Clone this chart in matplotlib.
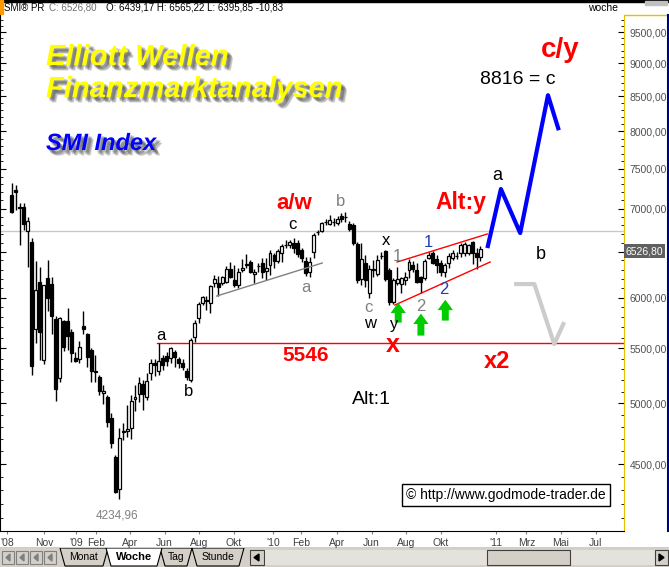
import numpy as np
import pandas as pd
import matplotlib
matplotlib.use("Agg")
import matplotlib.pyplot as plt
import matplotlib.dates as mdates
import matplotlib.patheffects as pe
from matplotlib.patches import Rectangle, Polygon
from matplotlib.ticker import FixedLocator, NullFormatter

plt.rcParams['font.family'] = ['Liberation Sans', 'DejaVu Sans']

# weekly SMI candles (Friday dates)
START_WEEK = "2008-09-05"

open_ = [7167, 7229, 7020, 7020, 6735, 6607, 5684, 6165, 5387, 6208,
         6144, 5783, 5222, 5763, 5763, 5654, 5406, 5396, 5713, 5635,
         5481, 5286, 5231, 5089, 5053, 4873, 4555, 4309, 4765, 4765,
         4790, 5036, 5080, 5168, 5053, 5267, 5360, 5286, 5406, 5425,
         5406, 5462, 5396, 5360, 5286, 5204, 5606, 5793, 5945, 5976,
         5945, 6155, 6155, 6155, 6165, 6306, 6187, 6133, 6295, 6361,
         6383, 6252, 6339, 6372, 6284, 6350, 6461, 6394, 6483, 6573,
         6573, 6596, 6596, 6516, 6394, 6273, 6494, 6723, 6735, 6840,
         6816, 6840, 6828, 6911, 6899, 6816, 6804, 6584, 6198, 6372,
         6049, 6306, 6252, 6449, 6505, 6295, 5955, 6155, 6144, 6187,
         6295, 6350, 6295, 6219, 6208, 6427, 6483, 6416, 6372, 6273,
         6372, 6427, 6449, 6483, 6483, 6483, 6607, 6483, 6439.17]

high = [7317, 7292, 7068, 7068, 6899, 6653, 6394, 6328, 6133, 6405,
        6219, 5813, 5800, 5773, 5894, 5684, 5462, 5567, 5864, 5645,
        5500, 5434, 5249, 5159, 5071, 4915, 4575, 4790, 4831, 4984,
        5071, 5159, 5231, 5204, 5267, 5396, 5396, 5546, 5434, 5462,
        5510, 5481, 5415, 5396, 5313, 5596, 5773, 5955, 6018, 6018,
        6133, 6241, 6230, 6230, 6339, 6383, 6350, 6317, 6416, 6472,
        6405, 6306, 6372, 6427, 6427, 6516, 6483, 6527, 6584, 6630,
        6630, 6653, 6630, 6539, 6438, 6438, 6711, 6746, 6840, 6875,
        6923, 6887, 6911, 6948, 6960, 6852, 6828, 6607, 6596, 6461,
        6350, 6405, 6461, 6494, 6516, 6317, 6208, 6328, 6219, 6273,
        6416, 6394, 6372, 6230, 6416, 6494, 6505, 6461, 6405, 6372,
        6483, 6516, 6494, 6596, 6607, 6584, 6619, 6539, 6565.22]

low = [6948, 6984, 6573, 6746, 6328, 5249, 5548, 5387, 5350, 5864,
       5635, 5018, 5186, 5472, 5481, 5369, 5369, 5360, 5635, 5323,
       5186, 5186, 5071, 4993, 4798, 4626, 4280, 4234.96, 4691, 4715,
       4699, 4932, 5010, 4941, 5027, 5204, 5240, 5249, 5295, 5332,
       5360, 5323, 5313, 5295, 5204, 5186, 5558, 5743, 5925, 5874,
       5843, 6112, 6018, 6133, 6155, 6208, 6112, 6101, 6273, 6317,
       6262, 6155, 6273, 6208, 6187, 6241, 6317, 6372, 6383, 6539,
       6539, 6483, 6438, 6383, 6230, 6219, 6427, 6688, 6723, 6804,
       6804, 6792, 6804, 6840, 6840, 6735, 6573, 6155, 6133, 6112,
       5997, 6219, 6230, 6416, 6176, 5925, 5935, 6133, 6049, 6133,
       6208, 6273, 6155, 6049, 6187, 6416, 6361, 6262, 6230, 6219,
       6317, 6405, 6416, 6438, 6449, 6461, 6361, 6306, 6395.85]

close = [6960, 7204, 7010, 6816, 6852, 5332, 6081, 5654, 6133, 5997,
         5813, 5124, 5793, 5510, 5616, 5453, 5378, 5510, 5684, 5415,
         5286, 5277, 5106, 5106, 4839, 4667, 4287, 4708, 4760, 4781,
         5018, 5053, 5177, 5080, 5195, 5360, 5341, 5378, 5341, 5378,
         5500, 5415, 5360, 5323, 5231, 5577, 5743, 5935, 6007, 5970,
         6123, 6198, 6112, 6219, 6306, 6219, 6133, 6273, 6317, 6355,
         6273, 6273, 6335, 6273, 6317, 6483, 6394, 6505, 6561, 6570,
         6607, 6539, 6472, 6427, 6262, 6383, 6688, 6720, 6828, 6836,
         6864, 6845, 6875, 6875, 6895, 6758, 6596, 6187, 6416, 6187,
         6306, 6300, 6405, 6445, 6198, 5955, 6187, 6198, 6208, 6219,
         6383, 6306, 6165, 6165, 6394, 6461, 6372, 6350, 6273, 6350,
         6449, 6483, 6445, 6573, 6584, 6573, 6483, 6438, 6526.80]

# levels and drawn lines
level_5546 = 5546
level_5546_start = "2009-05-19"
grey_level = 6740
support_a_dates = ["2009-09-01", "2010-03-06"]
support_a_prices = [6018, 6372]
chan_up_dates = ["2010-07-16", "2010-12-22"]
chan_up_prices = [6383, 6700]
chan_lo_dates = ["2010-07-12", "2010-12-27"]
chan_lo_prices = [5925, 6383]
blue_dates = ["2010-12-23", "2011-01-15", "2011-02-18", "2011-04-08", "2011-04-26"]
blue_prices = [6562, 7242, 6711, 8518, 8045]
alt_dates = ["2011-02-11", "2011-03-15", "2011-04-19", "2011-05-05"]
alt_prices = [6144, 6144, 5538, 5733]
arrow_dates = ["2010-07-18", "2010-08-27", "2010-10-09"]
arrow_tips = [5950, 5838, 5980]
arrow_bases = [5748, 5620, 5768]

y_major = [4500, 5000, 5500, 6000, 6500, 7000, 7500, 8000, 8500, 9000, 9500]
x_tick_dates = ["2008-08-27", "2008-11-01", "2008-12-27", "2009-02-01", "2009-04-01",
                "2009-06-01", "2009-08-01", "2009-10-01", "2009-12-10", "2010-01-28",
                "2010-04-01", "2010-06-01", "2010-08-01", "2010-10-01", "2011-01-06",
                "2011-03-01", "2011-05-01", "2011-07-01"]
x_tick_labels = ["'08", "Nov", "'09", "Feb", "Apr", "Jun", "Aug", "Okt", "'10", "Feb",
                 "Apr", "Jun", "Aug", "Okt", "'11", "Mrz", "Mai", "Jul"]


def d(s):
    return mdates.date2num(pd.Timestamp(s))


W, H = 669, 567
fig = plt.figure(figsize=(W / 100, H / 100), dpi=100)
fig.patch.set_facecolor('white')


def fx(px):
    return px / W


def fy(py):
    return 1 - py / H


ax = fig.add_axes([0, fy(531), fx(624), (531 - 15) / H])
ax.set_facecolor('white')

weeks = pd.date_range(START_WEEK, periods=len(close), freq='7D')
xs = mdates.date2num(weeks.to_pydatetime())
o = np.array(open_, float)
h = np.array(high, float)
l = np.array(low, float)
c = np.array(close, float)
up = c >= o

ax.vlines(xs, l, h, color='black', lw=1, zorder=3)
ax.bar(xs[up], np.maximum(c - o, 0.5)[up], bottom=o[up], width=5.2,
       color='white', edgecolor='black', lw=0.9, zorder=4)
ax.bar(xs[~up], (o - c)[~up], bottom=c[~up], width=5.2,
       color='black', edgecolor='black', lw=0.9, zorder=4)

x_lo, x_hi = d("2008-08-15"), d("2011-08-20")

# horizontal levels
ax.plot([x_lo, x_hi], [grey_level, grey_level], color='#c8c8c8', lw=1, zorder=1)
ax.plot([d(level_5546_start), x_hi], [level_5546, level_5546], color='red', lw=1, zorder=2)

# trend lines
ax.plot([d(s) for s in support_a_dates], support_a_prices, color='#808080', lw=1, zorder=5)
ax.plot([d(s) for s in chan_up_dates], chan_up_prices, color='red', lw=1, zorder=5)
ax.plot([d(s) for s in chan_lo_dates], chan_lo_prices, color='red', lw=1, zorder=5)

# scenarios
ax.plot([d(s) for s in alt_dates], alt_prices, color='#cccccc', lw=3, zorder=5)
ax.plot([d(s) for s in blue_dates], blue_prices, color='#0000ff', lw=3, zorder=6)

# green arrows
for ds, tip, base in zip(arrow_dates, arrow_tips, arrow_bases):
    ax.annotate('', xy=(d(ds), tip), xytext=(d(ds), base),
                arrowprops=dict(arrowstyle='simple,head_width=1.1,head_length=0.75,tail_width=0.5',
                                color='#00cc00', lw=0, mutation_scale=10,
                                shrinkA=0, shrinkB=0), zorder=7)

# wave labels
labels = [
    ("a/w", "2010-01-15", 7060, 'red', 16, 'bold'),
    ("c/y", "2011-04-29", 9211, 'red', 20, 'bold'),
    ("8816 = c", "2011-02-14", 8760, 'black', 14, 'normal'),
    ("Alt:y", "2010-11-06", 7081, 'red', 16.5, 'bold'),
    ("a", "2011-01-08", 7419, 'black', 13, 'normal'),
    ("b", "2011-03-26", 6461, 'black', 13, 'normal'),
    ("x2", "2011-01-08", 5378, 'red', 17, 'bold'),
    ("x", "2010-07-09", 5529, 'red', 18, 'bold'),
    ("5546", "2010-02-04", 5434, 'red', 15, 'bold'),
    ("Alt:1", "2010-05-31", 5036, 'black', 14, 'normal'),
    ("a", "2009-05-26", 5625, 'black', 12, 'normal'),
    ("b", "2009-07-14", 5106, 'black', 12, 'normal'),
    ("c", "2010-01-13", 6815, 'black', 12, 'normal'),
    ("a", "2010-02-05", 6112, '#808080', 12, 'normal'),
    ("b", "2010-04-08", 7093, '#808080', 12, 'normal'),
    ("x", "2010-06-26", 6630, 'black', 12, 'normal'),
    ("1", "2010-07-16", 6449, '#808080', 12, 'normal'),
    ("1", "2010-09-10", 6607, '#2040b0', 12, 'normal'),
    ("c", "2010-05-27", 5904, '#808080', 12, 'normal'),
    ("w", "2010-05-29", 5743, 'black', 12, 'normal'),
    ("y", "2010-07-11", 5733, 'black', 12, 'normal'),
    ("2", "2010-08-27", 5914, '#808080', 12, 'normal'),
    ("2", "2010-10-07", 6091, '#2040b0', 12, 'normal'),
]
for txt, ds, pr, col, sz, wt in labels:
    ax.text(d(ds), pr, txt, color=col, fontsize=sz, fontweight=wt,
            ha='center', va='center', zorder=8)

ax.text(d("2009-03-09"), 4120, "4234,96", color='#808080', fontsize=8.5,
        ha='center', va='center')

# axes styling
ax.set_yscale('log')
ax.set_xlim(x_lo, x_hi)
ax.set_ylim(4008, 9786)
ax.yaxis.set_major_locator(FixedLocator(y_major))
ax.yaxis.set_minor_locator(FixedLocator([v for v in range(4100, 9800, 100) if v not in y_major]))
ax.yaxis.set_minor_formatter(NullFormatter())
# the 6500 label is covered by the last-price box
ax.set_yticklabels(["" if v == 6500 else f"{v},00" for v in y_major])
ax.yaxis.tick_right()
ax.tick_params(axis='y', which='both', direction='in', left=True, right=True,
               labelleft=False, labelright=True, colors='black', labelcolor='#505050',
               labelsize=7.5, pad=4)
ax.tick_params(axis='y', which='major', length=4)
ax.tick_params(axis='y', which='minor', length=2)
ax.set_xticks([d(s) for s in x_tick_dates])
ax.set_xticklabels(x_tick_labels)
ax.tick_params(axis='x', direction='out', length=2, labelsize=7.5, labelcolor='#404040',
               colors='#808080', pad=3)
ax.spines['top'].set_visible(False)
ax.spines['right'].set_color('#e8c000')
ax.spines['left'].set_color('black')
ax.spines['bottom'].set_color('black')

# titles with soft shadow
shadow = [pe.SimplePatchShadow(offset=(dx, dy), shadow_rgbFace='#404040', alpha=0.2)
          for dx, dy in [(1.5, -1.5), (2.5, -2.5), (3.5, -3.5), (3, -2), (2, -3), (4, -4)]]
shadow.append(pe.Normal())
fig.text(fx(46), fy(65), "Elliott Wellen", fontsize=21, fontweight='bold', fontstyle='italic',
         color='#ffff00', va='baseline', path_effects=shadow)
fig.text(fx(46), fy(97), "Finanzmarktanalysen", fontsize=21, fontweight='bold',
         fontstyle='italic', color='#ffff00', va='baseline', path_effects=shadow)
fig.text(fx(46), fy(150), "SMI Index", fontsize=17, fontweight='bold', fontstyle='italic',
         color='#0000ff', va='baseline', path_effects=shadow)

# copyright box
fig.text(fx(506), fy(495), "\u00a9 http://www.godmode-trader.de", ha='center', va='center',
         fontsize=10, color='black',
         bbox=dict(facecolor='white', edgecolor='black', boxstyle='square,pad=0.3', lw=1))

# last price box
fig.text(fx(626), fy(251), "6526,80", ha='left', va='center', fontsize=7.5, color='white',
         bbox=dict(facecolor='#606060', edgecolor='none', boxstyle='square,pad=0.15'))

# header
fig.text(fx(4), fy(8), "SMI\u00ae PR", fontsize=7, va='center', color='black')
fig.text(fx(49), fy(8), "C: 6526,80", fontsize=7, va='center', color='#707070')
fig.text(fx(106), fy(8), "O: 6439,17 H: 6565,22 L: 6395,85 -10,83", fontsize=7,
         va='center', color='black')
fig.text(fx(588), fy(8), "woche", fontsize=7.5, va='center', color='black')

# frame decorations
deco = fig.add_axes([0, 0, 1, 1], facecolor='none')
deco.set_xlim(0, W)
deco.set_ylim(H, 0)
deco.axis('off')
deco.set_zorder(-1)
deco.add_patch(Rectangle((0, 0), W, 1.5, color='black'))
deco.add_patch(Rectangle((0, 0), 3, 14, color='#ff9900'))
deco.add_patch(Rectangle((645, 1), 22, 4, color='#c0c0c0'))
deco.plot([624, 668], [15, 15], color='#e8c000', lw=1)
deco.plot([667.5, 667.5], [15, 531], color='#000080', lw=1.5)
deco.plot([0, W], [548, 548], color='black', lw=1)

bar = fig.add_axes([0, 0, 1, 19 / H])
bar.set_xlim(0, W)
bar.set_ylim(19, 0)
bar.axis('off')
bar.add_patch(Rectangle((0, 0), W, 19, color='#d4d0c8'))
for x0 in [2, 16, 30, 44]:
    bar.add_patch(Rectangle((x0, 3), 12, 13, facecolor='#d4d0c8', edgecolor='#808080', lw=0.8))
    bar.add_patch(Polygon([[x0 + 4, 9.5], [x0 + 8, 6], [x0 + 8, 13]], color='#808080'))
tabs = [("Monat", 60, 108), ("Tag", 160, 192), ("Stunde", 192, 244)]
for name, a, b in tabs:
    bar.add_patch(Polygon([[a, 0], [a + 5, 18], [b - 5, 18], [b, 0]], facecolor='#d4d0c8',
                          edgecolor='black', lw=0.8))
    bar.text((a + b) / 2, 9, name, ha='center', va='center', fontsize=7.5, color='black')
bar.add_patch(Polygon([[106, 0], [111, 18], [157, 18], [162, 0]], facecolor='white',
                      edgecolor='black', lw=0.8))
bar.text(134, 9, "Woche", ha='center', va='center', fontsize=8, fontweight='bold')
bar.add_patch(Rectangle((250, 2), 14, 15, facecolor='#d4d0c8', edgecolor='#404040', lw=0.8))
bar.add_patch(Polygon([[254, 9.5], [259, 6], [259, 13]], color='black'))
bar.add_patch(Rectangle((265, 2), 390, 15, facecolor='#e4e2dc', edgecolor='none', hatch='....'))
bar.add_patch(Rectangle((487, 2), 83, 15, facecolor='#d4d0c8', edgecolor='#404040', lw=0.8))
bar.add_patch(Rectangle((655, 2), 13, 15, facecolor='#d4d0c8', edgecolor='#404040', lw=0.8))
bar.add_patch(Polygon([[664, 9.5], [659, 6], [659, 13]], color='black'))

fig.savefig("out.png", dpi=100)
